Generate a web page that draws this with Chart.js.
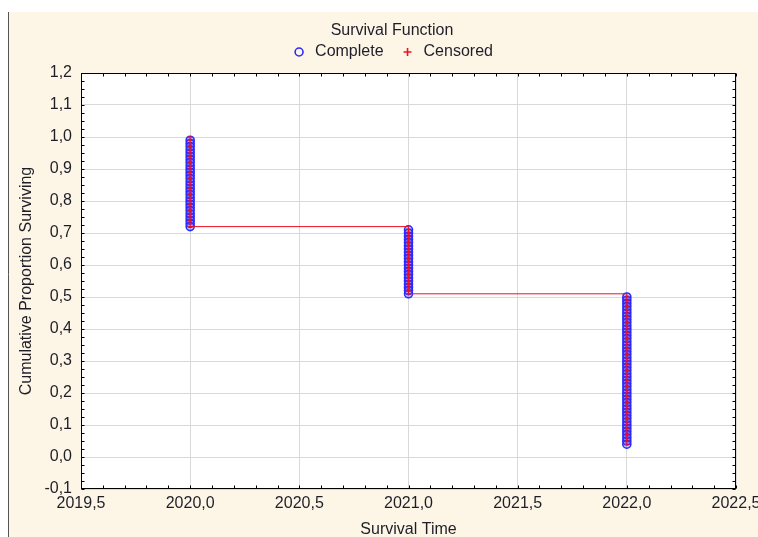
<!DOCTYPE html>
<html>
<head>
<meta charset="utf-8">
<title>Survival Function</title>
<script src="https://cdn.jsdelivr.net/npm/chart.js@4/dist/chart.umd.min.js"></script>
<style>
  html, body { margin: 0; padding: 0; background: #ffffff; }
  #chart { display: block; }
</style>
</head>
<body>
<canvas id="chart" width="758" height="537"></canvas>
<script>
// Event times (years) and the cumulative proportion surviving after each complete case
const eventTimes = [2020, 2021, 2022];
const survivalAt2020 = [0.99, 0.98, 0.97, 0.96, 0.95, 0.94, 0.93, 0.92, 0.91, 0.90,
                        0.89, 0.88, 0.87, 0.86, 0.85, 0.84, 0.83, 0.82, 0.81, 0.80,
                        0.79, 0.78, 0.77, 0.76, 0.75, 0.74, 0.73, 0.72];
const survivalAt2021 = [0.71, 0.70, 0.69, 0.68, 0.67, 0.66, 0.65, 0.64, 0.63, 0.62,
                        0.61, 0.60, 0.59, 0.58, 0.57, 0.56, 0.55, 0.54, 0.53, 0.52, 0.51];
const survivalAt2022 = [0.50, 0.49, 0.48, 0.47, 0.46, 0.45, 0.44, 0.43, 0.42, 0.41,
                        0.40, 0.39, 0.38, 0.37, 0.36, 0.35, 0.34, 0.33, 0.32, 0.31,
                        0.30, 0.29, 0.28, 0.27, 0.26, 0.25, 0.24, 0.23, 0.22, 0.21,
                        0.20, 0.19, 0.18, 0.17, 0.16, 0.15, 0.14, 0.13, 0.12, 0.11,
                        0.10, 0.09, 0.08, 0.07, 0.06, 0.05, 0.04];
const startProportion = 1.0;
const censoredCases = [];

// Axis ranges and tick spacing
const xRange = [2019.5, 2022.5];
const yRange = [-0.1, 1.2];
const xMajorStep = 0.5, xMinorStep = 0.1;
const yMajorStep = 0.1, yMinorStep = 0.025;

const survivalByTime = [survivalAt2020, survivalAt2021, survivalAt2022];
const completePoints = [];
eventTimes.forEach((t, i) => survivalByTime[i].forEach(p => completePoints.push({ x: t, y: p })));
const stepPoints = [{ x: eventTimes[0], y: startProportion }].concat(completePoints);

const FONT = 'Liberation Sans, Arial, sans-serif';
const TEXT = '#1e1e28';
const BLUE = '#2a2aff';
const RED = '#f01020';
Chart.defaults.font.family = FONT;
Chart.defaults.font.size = 16;
Chart.defaults.color = TEXT;

const fmt = v => Number(v).toFixed(1).replace('.', ',');

// Cream panel with a dark left edge, white plot area
const panelPlugin = {
  id: 'panel',
  beforeDraw(chart) {
    const { ctx, width, height, chartArea: a } = chart;
    ctx.save();
    ctx.fillStyle = '#ffffff';
    ctx.fillRect(0, 0, width, height);
    ctx.fillStyle = '#fdf6e7';
    ctx.fillRect(8, 12, width - 8, height - 12);
    ctx.strokeStyle = '#555555';
    ctx.lineWidth = 1;
    ctx.beginPath();
    ctx.moveTo(8.5, 12);
    ctx.lineTo(8.5, height);
    ctx.stroke();
    ctx.fillStyle = '#ffffff';
    ctx.fillRect(a.left, a.top, a.right - a.left, a.bottom - a.top);
    ctx.restore();
  }
};

// Frame around the plot area with small inward ticks on all four sides
const framePlugin = {
  id: 'frame',
  afterDraw(chart) {
    const { ctx, chartArea: a, scales } = chart;
    const L = Math.round(a.left) + 0.5, R = Math.round(a.right) - 0.5;
    const T = Math.round(a.top) + 0.5, B = Math.round(a.bottom) - 0.5;
    const len = 3;
    ctx.save();
    ctx.strokeStyle = '#000000';
    ctx.lineWidth = 1;
    ctx.beginPath();
    const nx = Math.round((xRange[1] - xRange[0]) / xMinorStep);
    for (let i = 0; i <= nx; i++) {
      const px = Math.round(scales.x.getPixelForValue(xRange[0] + i * xMinorStep)) + 0.5;
      ctx.moveTo(px, B); ctx.lineTo(px, B - len);
      ctx.moveTo(px, T); ctx.lineTo(px, T + len);
    }
    const ny = Math.round((yRange[1] - yRange[0]) / yMinorStep);
    for (let i = 0; i <= ny; i++) {
      const py = Math.round(scales.y.getPixelForValue(yRange[0] + i * yMinorStep)) + 0.5;
      ctx.moveTo(L, py); ctx.lineTo(L + len, py);
      ctx.moveTo(R, py); ctx.lineTo(R - len, py);
    }
    ctx.stroke();
    ctx.strokeRect(L, T, R - L, B - T);
    ctx.restore();
  }
};

new Chart(document.getElementById('chart'), {
  type: 'scatter',
  data: {
    datasets: [
      {
        label: 'Complete',
        order: 1,
        data: completePoints,
        pointStyle: 'circle',
        pointRadius: 4,
        pointBorderWidth: 1.6,
        borderColor: BLUE,
        backgroundColor: 'rgba(70,70,255,0.3)',
        pointBorderColor: BLUE,
        pointBackgroundColor: 'rgba(70,70,255,0.3)'
      },
      {
        label: 'Censored',
        order: 1,
        data: censoredCases,
        pointStyle: 'cross',
        pointRadius: 4,
        pointBorderWidth: 1.6,
        borderColor: RED,
        backgroundColor: RED,
        pointBorderColor: RED
      },
      {
        label: 'Survival',
        order: 0,
        data: stepPoints,
        showLine: true,
        stepped: true,
        borderColor: RED,
        borderWidth: 1,
        pointStyle: 'line',
        pointRadius: 2,
        pointBorderWidth: 1.2,
        pointBorderColor: RED,
        pointBackgroundColor: RED
      }
    ]
  },
  options: {
    responsive: false,
    animation: false,
    devicePixelRatio: 1,
    layout: { padding: { left: 26, right: 0, top: 12, bottom: 0 } },
    plugins: {
      tooltip: { enabled: false },
      title: {
        display: true,
        text: 'Survival Function',
        color: TEXT,
        font: { size: 16, weight: 'normal', lineHeight: 1.2 },
        padding: { top: 9.4, bottom: -12.6 }
      },
      legend: {
        display: true,
        position: 'top',
        labels: {
          usePointStyle: true,
          boxHeight: 5.6,
          padding: 16,
          color: TEXT,
          font: { size: 16 },
          filter: item => item.text !== 'Survival',
          generateLabels(chart) {
            const items = Chart.defaults.plugins.legend.labels.generateLabels(chart);
            return items.map(it => it.pointStyle === 'circle' ? Object.assign(it, { fillStyle: 'rgba(0,0,0,0)' }) : it);
          }
        }
      }
    },
    scales: {
      x: {
        type: 'linear',
        position: 'bottom',
        min: xRange[0],
        max: xRange[1],
        ticks: { stepSize: xMajorStep, callback: fmt, padding: 5, color: TEXT, maxRotation: 0, autoSkip: false },
        grid: { color: '#d9d9d9', lineWidth: 1, drawTicks: false },
        border: { display: false },
        title: { display: true, text: 'Survival Time', color: TEXT, font: { size: 16, lineHeight: 1 }, padding: { top: 0, bottom: -1 } },
        afterFit(s) { s.height = 48; s.paddingLeft = 0; s.paddingRight = 0; }
      },
      y: {
        type: 'linear',
        position: 'left',
        min: yRange[0],
        max: yRange[1],
        ticks: { stepSize: yMajorStep, callback: fmt, padding: 9, color: TEXT, autoSkip: false },
        grid: { color: '#d9d9d9', lineWidth: 1, drawTicks: false },
        border: { display: false },
        title: { display: true, text: 'Cumulative Proportion Surviving', color: TEXT, font: { size: 16, lineHeight: 1 }, padding: { top: -7, bottom: 0 } },
        afterFit(s) { s.width = 55; s.paddingTop = 0; s.paddingBottom = 0; }
      },
      x2: {
        type: 'linear',
        position: 'top',
        min: xRange[0],
        max: xRange[1],
        ticks: { display: false },
        grid: { display: false },
        border: { display: false },
        afterFit(s) { s.height = 3; s.paddingLeft = 0; s.paddingRight = 0; }
      },
      y2: {
        type: 'linear',
        position: 'right',
        min: yRange[0],
        max: yRange[1],
        ticks: { display: false },
        grid: { display: false },
        border: { display: false },
        afterFit(s) { s.width = 22; s.paddingTop = 0; s.paddingBottom = 0; }
      }
    }
  },
  plugins: [panelPlugin, framePlugin]
});
</script>
</body>
</html>
